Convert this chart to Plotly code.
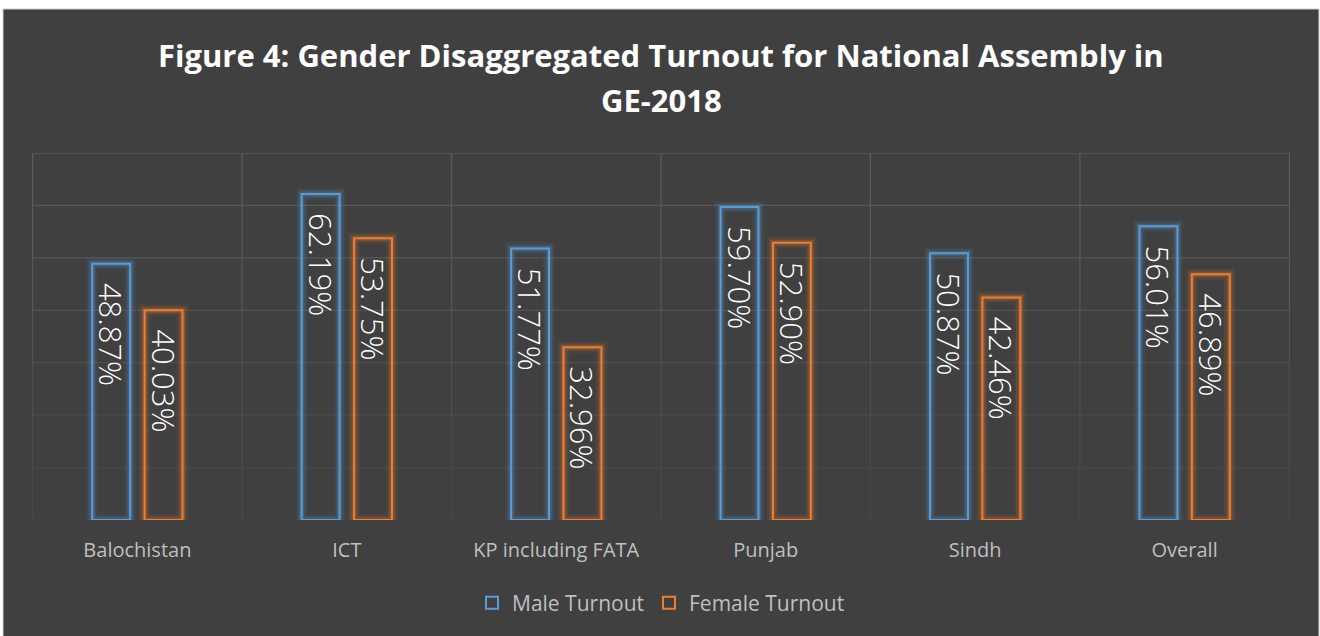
import plotly.graph_objects as go

categories = ["Balochistan", "ICT", "KP including FATA", "Punjab", "Sindh", "Overall"]
male_turnout = [48.87, 62.19, 51.77, 59.70, 50.87, 56.01]
female_turnout = [40.03, 53.75, 32.96, 52.90, 42.46, 46.89]
series_names = ["Male Turnout", "Female Turnout"]
title_lines = ["Figure 4: Gender Disaggregated Turnout for National Assembly in", "GE-2018"]
y_ticks = [0, 10, 20, 30, 40, 50, 60, 70]

BLUE = "#5B9BD5"
ORANGE = "#ED7D31"
BG = "#404040"
grid_colors = ["#454545", "#474747", "#4a4a4a", "#4e4e4e", "#525252", "#565656", "#585858", "#5a5a5a"]

fig = go.Figure()

# soft glow layers
glow_layers = [(12, 0.07), (8, 0.12), (5, 0.2)]
for width, alpha in glow_layers:
    for vals, rgb, grp in [(male_turnout, "91,155,213", "m"), (female_turnout, "237,125,49", "f")]:
        fig.add_trace(go.Bar(
            x=categories, y=vals, offsetgroup=grp, showlegend=False, hoverinfo="skip",
            marker=dict(color="rgba(0,0,0,0)", line=dict(color=f"rgba({rgb},{alpha})", width=width)),
        ))

for vals, col, grp, name in [(male_turnout, BLUE, "m", series_names[0]), (female_turnout, ORANGE, "f", series_names[1])]:
    fig.add_trace(go.Bar(
        x=categories, y=vals, offsetgroup=grp, name=name,
        marker=dict(color="rgba(64,64,64,0.0)", line=dict(color=col, width=2)),
        texttemplate="\u00a0\u00a0%{y:.2f}%", textposition="inside", insidetextanchor="end",
        textangle=90, constraintext="none",
        insidetextfont=dict(family="Open Sans", size=31, color="white", weight=300),
    ))

shapes = []
L, R, T, B = 32, 30, 153, 116
W, H = 1320 - L - R, 636 - T - B
shapes.append(dict(type="rect", xref="paper", yref="paper",
                   x0=(3 - L) / W, x1=(1319 - L) / W, y0=(T + H - 640) / H, y1=(T + H - 9) / H,
                   fillcolor=BG, line=dict(color="#D0D0D0", width=1), layer="below"))
for v, c in zip(y_ticks, grid_colors):
    shapes.append(dict(type="line", xref="paper", yref="y", x0=0, x1=1, y0=v, y1=v,
                       line=dict(color=c, width=1.3), layer="below"))
for i in range(len(categories) + 1):
    for k in range(len(y_ticks) - 1):
        shapes.append(dict(type="line", xref="x", yref="y", x0=i - 0.5, x1=i - 0.5,
                           y0=y_ticks[k], y1=y_ticks[k + 1],
                           line=dict(color=grid_colors[k + 1], width=1.3), layer="below"))

annotations = [
    dict(text=f"<b>{title_lines[0]}</b>", xref="paper", yref="paper", x=0.5, y=(T + H - 55) / H,
         showarrow=False, font=dict(family="Open Sans", size=31, color="white"), xanchor="center", yanchor="middle"),
    dict(text=f"<b>{title_lines[1]}</b>", xref="paper", yref="paper", x=0.5, y=(T + H - 100) / H,
         showarrow=False, font=dict(family="Open Sans", size=31, color="white"), xanchor="center", yanchor="middle"),
]

fig.update_layout(
    width=1320, height=636,
    margin=dict(l=L, r=R, t=T, b=B),
    paper_bgcolor="white", plot_bgcolor="rgba(0,0,0,0)",
    barmode="group", bargap=0.5, bargroupgap=0.276,
    shapes=shapes, annotations=annotations,
    xaxis=dict(showgrid=False, zeroline=False, showline=False, ticks="outside", ticklen=12,
               tickcolor="rgba(0,0,0,0)", tickfont=dict(family="Open Sans", size=20, color="#BFBFBF")),
    yaxis=dict(range=[0, 70], tickvals=y_ticks, showticklabels=False, showgrid=False, zeroline=False, showline=False),
    legend=dict(orientation="h", x=0.5, xanchor="center", y=(T + H - 603) / H, yanchor="middle",
                font=dict(family="Open Sans", size=21, color="#BFBFBF"), bgcolor="rgba(0,0,0,0)",
                itemwidth=30, traceorder="normal"),
    showlegend=True,
)

fig.write_html("out.html", config={"displayModeBar": False},
               post_script="document.body.style.margin='0';")
